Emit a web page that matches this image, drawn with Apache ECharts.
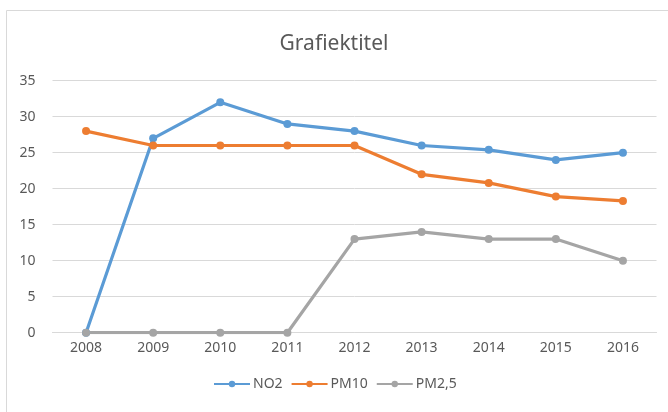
<!DOCTYPE html>
<html>
<head>
<meta charset="utf-8">
<script src="https://cdn.jsdelivr.net/npm/echarts@6/dist/echarts.min.js"></script>
<style>html,body{margin:0;padding:0;background:#fff}#c{width:668px;height:412px}</style>
</head>
<body>
<div id="c"></div>
<script>
const categories = ['2008','2009','2010','2011','2012','2013','2014','2015','2016'];
const no2  = [0, 27, 32, 29, 28, 26, 25.4, 24, 25];
const pm10 = [28, 26, 26, 26, 26, 22, 20.8, 18.9, 18.3];
const pm25 = [0, 0, 0, 0, 13, 14, 13, 13, 10];
const seriesNames = ['NO2', 'PM10', 'PM2,5'];
const colors = ['#5B9BD5', '#ED7D31', '#A5A5A5'];

const chart = echarts.init(document.getElementById('c'), null, {renderer: 'canvas'});
const font = '"Noto Sans", "Open Sans", "DejaVu Sans", sans-serif';
function mk(name, data, color) {
  return {
    name: name, type: 'line', data: data,
    symbol: 'circle', symbolSize: 8,
    lineStyle: {width: 3.2, color: color},
    itemStyle: {color: color},
    emphasis: {disabled: true}
  };
}
chart.setOption({
  animation: false,
  textStyle: {fontFamily: font},
  graphic: [{
    type: 'rect', shape: {x: 6.5, y: 10.5, width: 700, height: 500},
    style: {fill: 'none', stroke: '#d9d9d9', lineWidth: 1}, silent: true
  }],
  title: {
    text: 'Grafiektitel', left: 'center', top: 29,
    textStyle: {fontSize: 21, fontWeight: 'normal', color: '#595959', fontFamily: font}
  },
  legend: {
    data: seriesNames, top: 372, left: 208,
    itemWidth: 36, itemHeight: 8, itemGap: 8,
    textStyle: {fontSize: 14, color: '#595959', fontFamily: font, padding: [0, 0, 0, -2]}
  },
  grid: {left: 52.5, right: 11.5, top: 80.7, bottom: 79.3, containLabel: false},
  xAxis: {
    type: 'category', data: categories, boundaryGap: true,
    axisLine: {lineStyle: {color: '#d9d9d9'}},
    axisTick: {show: false},
    axisLabel: {color: '#595959', fontSize: 14, margin: 8, fontFamily: font}
  },
  yAxis: {
    type: 'value', min: 0, max: 35, interval: 5,
    axisLine: {show: false}, axisTick: {show: false},
    splitLine: {lineStyle: {color: '#d9d9d9'}},
    axisLabel: {color: '#595959', fontSize: 14, margin: 17, fontFamily: font}
  },
  series: [mk(seriesNames[0], no2, colors[0]), mk(seriesNames[1], pm10, colors[1]), mk(seriesNames[2], pm25, colors[2])]
});
</script>
</body>
</html>
